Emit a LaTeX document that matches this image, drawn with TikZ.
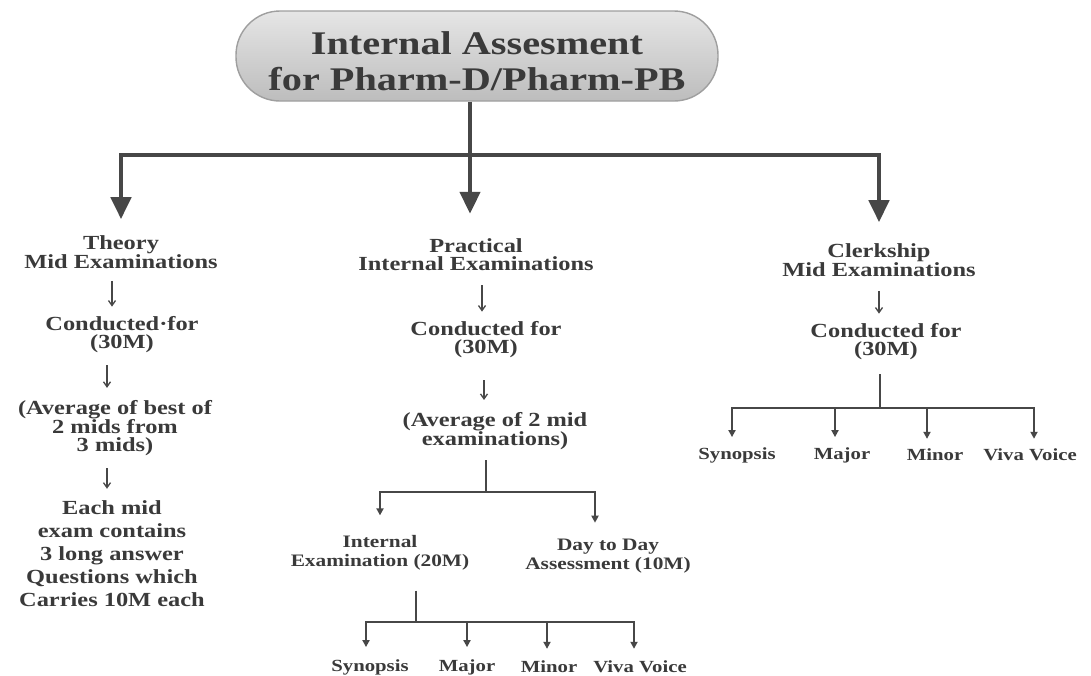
\documentclass[tikz,border=0pt]{standalone}
\usepackage{fontspec}
\setmainfont{Liberation Serif}[FakeStretch=1.22]
\usetikzlibrary{arrows.meta}
\definecolor{ink}{HTML}{3a3a3a}
\definecolor{wire}{HTML}{474747}
\begin{document}
\begin{tikzpicture}[x=1pt,y=-1pt,
  txt/.style={text=ink, font=\fontsize{20}{18}\selectfont\bfseries, align=center, inner sep=0pt},
  body/.style={txt, font=\fontsize{20}{23}\selectfont\bfseries},
  small/.style={txt, font=\fontsize{17.5}{19}\selectfont\bfseries},
  leaf/.style={txt, font=\fontsize{17}{19}\selectfont\bfseries},
  pill/.style={rounded corners=44pt, draw=gray!75, line width=1.4pt,
    top color=gray!20, bottom color=gray!52, text=ink,
    minimum width=482pt, minimum height=90pt, align=center, inner sep=0pt,
    font=\fontsize{33}{36}\selectfont\bfseries},
  trunk/.style={draw=wire, line width=4.5pt},
  bigarrow/.style={draw=wire, line width=4.5pt, -{Triangle[length=22pt,width=20pt]}},
  sarrow/.style={draw=wire, line width=1.3pt, -{Straight Barb[length=5pt,width=7pt]}},
  brk/.style={draw=wire, line width=2.2pt},
  barrow/.style={draw=wire, line width=2.2pt, -{Triangle[length=7pt,width=7pt]}}
]
\useasboundingbox[fill=white] (0,0) rectangle (1091,675);

% title
\node[pill] (title) at (477,56) {};
\node[txt, text=ink, font=\fontsize{33}{36}\selectfont\bfseries] (titletext) at (477,61)
  {Internal Assesment\\for Pharm-D/Pharm-PB};

% three main branches
\node[txt] (theory) at (121,252) {Theory\\Mid Examinations};
\node[txt] (practical) at (476,255) {Practical\\Internal Examinations};
\node[txt] (clerk) at (879,260) {Clerkship\\Mid Examinations};

\coordinate (hub) at (470,155);
\draw[trunk] (title.south -| hub) -- (hub);
\draw[bigarrow, shorten >=16pt] (hub) -| (theory.north);
\draw[bigarrow, shorten >=25pt] (hub) -- (hub |- practical.north);
\draw[bigarrow, shorten >=21pt] (hub) -| (clerk.north);

% theory column
\node[txt] (tcond) at (122,335) {Conducted{\textperiodcentered}for\\(30M)};
\node[txt] (tavg) at (115,428) {(Average of best of\\2 mids from\\3 mids)};
\node[body] (teach) at (112,554) {Each mid\\exam contains\\3 long answer\\Questions which\\Carries 10M each};
\draw[sarrow, shorten <=12pt, shorten >=10pt] ([xshift=-9pt]theory.south) -- ([xshift=-9pt]theory.south |- tcond.north);
\draw[sarrow, shorten <=12pt, shorten >=12pt] ([xshift=-15pt]tcond.south) -- ([xshift=-15pt]tcond.south |- tavg.north);
\draw[sarrow, shorten <=12pt, shorten >=12pt] ([xshift=-8pt]tavg.south) -- ([xshift=-8pt]tavg.south |- teach.north);

% practical column
\node[txt] (pcond) at (486,340) {Conducted for\\(30M)};
\node[txt] (pavg) at (495,431) {(Average of 2 mid\\examinations)};
\node[small] (pint) at (380,553) {Internal\\Examination (20M)};
\node[small] (pday) at (608,556) {Day to Day\\Assessment (10M)};
\draw[sarrow, shorten <=14pt, shorten >=10pt] ([xshift=6pt]practical.south) -- ([xshift=6pt]practical.south |- pcond.north);
\draw[sarrow, shorten <=22pt, shorten >=12pt] ([xshift=-2pt]pcond.south) -- ([xshift=-2pt]pcond.south |- pavg.north);
\coordinate (pjoin) at (486,492);
\draw[brk, shorten <=10pt] (pavg.south -| pjoin) -- (pjoin);
\draw[barrow, shorten >=20pt] (pjoin) -| (pint.north);
\draw[barrow, shorten >=16pt] (pjoin) -| ([xshift=-13pt]pday.north);

\node[leaf] (ps) at (370,667) {Synopsis};
\node[leaf] (pma) at (467,667) {Major};
\node[leaf] (pmi) at (549,667) {Minor};
\node[leaf] (pv) at (640,667) {Viva Voice};
\coordinate (pjoin2) at (416,622);
\draw[brk, shorten <=20pt] (pint.south -| pjoin2) -- (pjoin2);
\draw[barrow, shorten >=12pt] (pjoin2) -| ([xshift=-4pt]ps.north);
\draw[barrow, shorten >=12pt] (pjoin2) -| (pma.north);
\draw[barrow, shorten >=12pt] (pjoin2) -| ([xshift=-2pt]pmi.north);
\draw[barrow, shorten >=12pt] (pjoin2) -| ([xshift=-6pt]pv.north);

% clerkship column
\node[txt] (ccond) at (886,342) {Conducted for\\(30M)};
\draw[sarrow, shorten <=14pt, shorten >=10pt] (clerk.south) -- (clerk.south |- ccond.north);
\coordinate (cjoin) at (880,408);
\draw[brk, shorten <=14pt] (ccond.south -| cjoin) -- (cjoin);
\node[leaf] (cs) at (737,455) {Synopsis};
\node[leaf] (cma) at (842,455) {Major};
\node[leaf] (cmi) at (935,455) {Minor};
\node[leaf] (cv) at (1030,455) {Viva Voice};
\draw[barrow, shorten >=10pt] (cjoin) -| ([xshift=-5pt]cs.north);
\draw[barrow, shorten >=10pt] (cjoin) -| ([xshift=-7pt]cma.north);
\draw[barrow, shorten >=10pt] (cjoin) -| ([xshift=-8pt]cmi.north);
\draw[barrow, shorten >=10pt] (cjoin) -| ([xshift=4pt]cv.north);
\end{tikzpicture}
\end{document}
